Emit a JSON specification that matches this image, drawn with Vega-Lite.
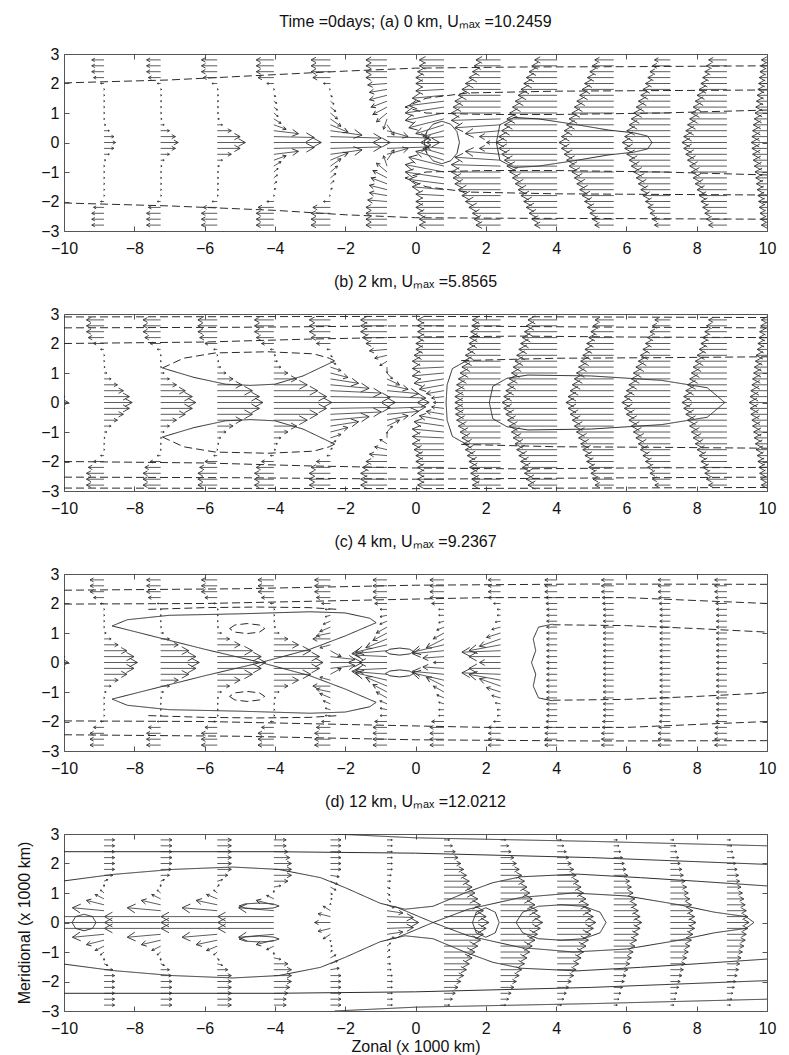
{
"$schema":"https://vega.github.io/schema/vega-lite/v6.json",
"background":"white",
"padding":{"left":16,"top":13,"right":10,"bottom":0},
"datasets":{
"contours":[
{"p":"a","c":"a1","s":"d","x":[-10,-7,-4,-2,0,3,6,10],"y":[2.02,2.12,2.3,2.42,2.52,2.56,2.57,2.6]},
{"p":"a","c":"a2","s":"d","x":[-10,-7,-4,-2,0,3,6,10],"y":[-2.05,-2.15,-2.3,-2.45,-2.55,-2.57,-2.58,-2.6]},
{"p":"a","c":"a3","s":"d","x":[10,7,4,1.5,0.3,-0.3,0.3,2,4,7,10],"y":[1.78,1.76,1.74,1.68,1.5,1.2,1.0,0.95,0.95,1.0,1.1]},
{"p":"a","c":"a4","s":"d","x":[10,7,4,1.5,0.3,-0.3,0.3,2,4,7,10],"y":[-1.78,-1.76,-1.74,-1.68,-1.5,-1.2,-1.0,-0.95,-0.95,-1.0,-1.1]},
{"p":"a","c":"a5","s":"s","x":[0.25,0.32,0.5,0.75,1.0,1.18,1.25,1.18,1.0,0.75,0.5,0.32,0.25],"y":[0,0.37,0.62,0.72,0.62,0.37,0,-0.37,-0.62,-0.72,-0.62,-0.37,0]},
{"p":"a","c":"a6","s":"s","x":[2.3,2.4,2.8,3.5,4.5,5.5,6.2,6.6,6.73,6.6,6.2,5.5,4.5,3.5,2.8,2.4,2.3],"y":[0,0.6,0.85,0.8,0.62,0.42,0.33,0.22,0,-0.22,-0.33,-0.42,-0.62,-0.8,-0.85,-0.6,0]},
{"p":"b","c":"b1","s":"d","x":[-10,-5,0,5,10],"y":[2.9,2.91,2.92,2.9,2.88]},
{"p":"b","c":"b2","s":"d","x":[-10,-5,0,5,10],"y":[-2.9,-2.91,-2.92,-2.9,-2.88]},
{"p":"b","c":"b3","s":"d","x":[-10,-5,0,5,10],"y":[2.53,2.55,2.6,2.56,2.53]},
{"p":"b","c":"b4","s":"d","x":[-10,-5,0,5,10],"y":[-2.53,-2.55,-2.6,-2.56,-2.53]},
{"p":"b","c":"b5","s":"d","x":[-10,-6,-3,0,3,6,10],"y":[2.0,2.05,2.15,2.22,2.25,2.22,2.2]},
{"p":"b","c":"b6","s":"d","x":[-10,-6,-3,0,3,6,10],"y":[-2.0,-2.05,-2.15,-2.22,-2.25,-2.22,-2.2]},
{"p":"b","c":"b7","s":"d","x":[1.3,4,7,10],"y":[1.42,1.5,1.52,1.55]},
{"p":"b","c":"b8","s":"d","x":[1.3,4,7,10],"y":[-1.42,-1.5,-1.52,-1.55]},
{"p":"b","c":"b9","s":"s","x":[1.5,1.05,0.9,0.87,0.9,1.05,1.5],"y":[1.45,1.15,0.6,0,-0.6,-1.15,-1.45]},
{"p":"b","c":"b10","s":"s","x":[2.1,2.2,2.6,3.2,5,7,8.3,8.8,8.3,7,5,3.2,2.6,2.2,2.1],"y":[0,0.55,0.82,0.93,0.9,0.75,0.5,0,-0.5,-0.75,-0.9,-0.93,-0.82,-0.55,0]},
{"p":"b","c":"b11","s":"d","x":[-7.2,-6.6,-5.7,-4.2,-2.9,-2.45,-2.3],"y":[1.17,1.5,1.68,1.72,1.65,1.5,1.41]},
{"p":"b","c":"b12","s":"d","x":[-7.2,-6.6,-5.7,-4.2,-2.9,-2.45,-2.3],"y":[-1.17,-1.5,-1.68,-1.72,-1.65,-1.5,-1.41]},
{"p":"b","c":"b13","s":"s","x":[-7.2,-6.3,-5.4,-4.7,-4.0,-3.2,-2.3],"y":[1.17,0.85,0.62,0.58,0.62,0.9,1.41]},
{"p":"b","c":"b14","s":"s","x":[-7.2,-6.3,-5.4,-4.7,-4.0,-3.2,-2.3],"y":[-1.17,-0.85,-0.62,-0.58,-0.62,-0.9,-1.41]},
{"p":"c","c":"c1","s":"d","x":[-10,-5,0,5,10],"y":[2.45,2.5,2.62,2.66,2.65]},
{"p":"c","c":"c2","s":"d","x":[-10,-5,0,5,10],"y":[-2.45,-2.5,-2.62,-2.66,-2.65]},
{"p":"c","c":"c3","s":"d","x":[-10,-6,-2,2,6,10],"y":[1.98,2.0,2.1,2.2,2.2,2.0]},
{"p":"c","c":"c4","s":"d","x":[-10,-6,-2,2,6,10],"y":[-1.98,-2.0,-2.1,-2.2,-2.2,-2.0]},
{"p":"c","c":"c5","s":"d","x":[-7.6,-6,-4.5,-3,-2.2],"y":[1.8,1.86,1.88,1.86,1.8]},
{"p":"c","c":"c6","s":"d","x":[-7.6,-6,-4.5,-3,-2.2],"y":[-1.8,-1.86,-1.88,-1.86,-1.8]},
{"p":"c","c":"c7","s":"s","x":[-8.63,-7.5,-6,-4.4,-3,-2,-1.12,-1.3,-2,-3,-5,-7,-8.2,-8.63,-7.5,-6,-4.4,-3,-2,-1.12,-1.3,-2,-3,-5,-7,-8.2,-8.63],"y":[1.24,0.9,0.45,0,-0.45,-0.9,-1.35,-1.5,-1.68,-1.72,-1.65,-1.6,-1.45,-1.24,-0.9,-0.45,0,0.45,0.9,1.35,1.5,1.68,1.72,1.65,1.6,1.45,1.24]},
{"p":"c","c":"c8","s":"d","x":[-5.29,-5.14,-4.79,-4.44,-4.29,-4.44,-4.79,-5.14,-5.29],"y":[1.15,1.27,1.32,1.27,1.15,1.03,0.98,1.03,1.15]},
{"p":"c","c":"c9","s":"d","x":[-5.29,-5.14,-4.79,-4.44,-4.29,-4.44,-4.79,-5.14,-5.29],"y":[-1.15,-1.27,-1.32,-1.27,-1.15,-1.03,-0.98,-1.03,-1.15]},
{"p":"c","c":"c10","s":"s","x":[3.9,3.5,3.35,3.42,3.3,3.42,3.35,3.5,3.9],"y":[1.3,1.2,0.8,0.4,0,-0.4,-0.8,-1.2,-1.3]},
{"p":"c","c":"c11","s":"d","x":[3.9,6,8,10],"y":[1.28,1.25,1.15,1.03]},
{"p":"c","c":"c12","s":"d","x":[3.9,6,8,10],"y":[-1.28,-1.25,-1.15,-1.03]},
{"p":"c","c":"c13","s":"s","x":[-0.85,-0.73,-0.45,-0.17,-0.05,-0.17,-0.45,-0.73,-0.85],"y":[0.37,0.45,0.49,0.45,0.37,0.29,0.25,0.29,0.37]},
{"p":"c","c":"c14","s":"s","x":[-0.85,-0.73,-0.45,-0.17,-0.05,-0.17,-0.45,-0.73,-0.85],"y":[-0.37,-0.45,-0.49,-0.45,-0.37,-0.29,-0.25,-0.29,-0.37]},
{"p":"d","c":"d1","s":"s","x":[-2.3,0,5,10],"y":[3.0,2.87,2.75,2.6]},
{"p":"d","c":"d2","s":"s","x":[-2.3,0,5,10],"y":[-3.0,-2.87,-2.75,-2.6]},
{"p":"d","c":"d3","s":"s","x":[-10,-4,0,5,10],"y":[2.4,2.4,2.35,2.2,1.97]},
{"p":"d","c":"d4","s":"s","x":[-10,-4,0,5,10],"y":[-2.4,-2.4,-2.35,-2.2,-1.97]},
{"p":"d","c":"d5","s":"s","x":[-10,-8.6,-6.9,-5.2,-3.9,-2.7,-2,-1,-0.3,0.5,1.4,2.2,3,4.6,6.4,8,10],"y":[1.41,1.63,1.8,1.88,1.8,1.52,1.18,0.65,0.45,0.55,1,1.35,1.55,1.64,1.52,1.4,1.24]},
{"p":"d","c":"d6","s":"s","x":[-10,-8.6,-6.9,-5.2,-3.9,-2.7,-2,-1,-0.3,0.5,1.4,2.2,3,4.6,6.4,8,10],"y":[-1.41,-1.63,-1.8,-1.88,-1.8,-1.52,-1.18,-0.65,-0.45,-0.55,-1,-1.35,-1.55,-1.64,-1.52,-1.4,-1.24]},
{"p":"d","c":"d7","s":"s","x":[-0.6,0.5,1.5,3,4.5,6,7.5,8.5,9.4,9.63,9.4,8.5,7.5,6,4.5,3,1.5,0.5,-0.6],"y":[-0.55,0,0.45,0.85,1,0.9,0.6,0.35,0.2,0,-0.2,-0.35,-0.6,-0.9,-1,-0.85,-0.45,0,0.55]},
{"p":"d","c":"d8","s":"s","x":[2.86,3.05,3.5,4.14,4.78,5.25,5.42,5.25,4.78,4.14,3.5,3.05,2.86],"y":[0,0.35,0.55,0.6,0.55,0.35,0,-0.35,-0.55,-0.6,-0.55,-0.35,0]},
{"p":"d","c":"d9","s":"s","x":[1.62,1.73,2,2.27,2.38,2.27,2,1.73,1.62],"y":[0,0.35,0.5,0.35,0,-0.35,-0.5,-0.35,0]},
{"p":"d","c":"d10","s":"s","x":[-5.02,-4.85,-4.45,-4.05,-3.88,-4.05,-4.45,-4.85,-5.02],"y":[0.56,0.63,0.66,0.63,0.56,0.49,0.46,0.49,0.56]},
{"p":"d","c":"d11","s":"s","x":[-5.02,-4.85,-4.45,-4.05,-3.88,-4.05,-4.45,-4.85,-5.02],"y":[-0.56,-0.63,-0.66,-0.63,-0.56,-0.49,-0.46,-0.49,-0.56]},
{"p":"d","c":"d12","s":"s","x":[-9.77,-9.67,-9.43,-9.19,-9.09,-9.19,-9.43,-9.67,-9.77],"y":[0,0.2,0.28,0.2,0,-0.2,-0.28,-0.2,0]}
],
"arrows":[
{"p":"a","x":-8.86,"y":[-2.8,-2.6,-2.4,-2.2,-2,-1.8,-1.6,-1.4,-1.2,-1,-0.8,-0.6,-0.4,-0.2,0,0.2,0.4,0.6,0.8,1,1.2,1.4,1.6,1.8,2,2.2,2.4,2.6,2.8],"u":[-0.35,-0.35,-0.35,-0.3,-0.1,0.02,0.02,0.02,0.02,0.02,0.02,0.05,0.15,0.28,0.33,0.28,0.15,0.05,0.02,0.02,0.02,0.02,0.02,0.02,-0.1,-0.3,-0.35,-0.35,-0.35],"v":[]},
{"p":"a","x":-7.25,"y":[-2.8,-2.6,-2.4,-2.2,-2,-1.8,-1.6,-1.4,-1.2,-1,-0.8,-0.6,-0.4,-0.2,0,0.2,0.4,0.6,0.8,1,1.2,1.4,1.6,1.8,2,2.2,2.4,2.6,2.8],"u":[-0.4,-0.4,-0.4,-0.35,-0.1,0.03,0.03,0.03,0.03,0.03,0.04,0.1,0.25,0.42,0.5,0.42,0.25,0.1,0.04,0.03,0.03,0.03,0.03,0.03,-0.1,-0.35,-0.4,-0.4,-0.4],"v":[]},
{"p":"a","x":-5.64,"y":[-2.8,-2.6,-2.4,-2.2,-2,-1.8,-1.6,-1.4,-1.2,-1,-0.8,-0.6,-0.4,-0.2,0,0.2,0.4,0.6,0.8,1,1.2,1.4,1.6,1.8,2,2.2,2.4,2.6,2.8],"u":[-0.45,-0.45,-0.45,-0.4,-0.15,0.03,0.04,0.04,0.04,0.04,0.06,0.15,0.4,0.65,0.8,0.65,0.4,0.15,0.06,0.04,0.04,0.04,0.04,0.03,-0.15,-0.4,-0.45,-0.45,-0.45],"v":[]},
{"p":"a","x":-4.03,"y":[-2.8,-2.6,-2.4,-2.2,-2,-1.8,-1.6,-1.4,-1.2,-1,-0.8,-0.6,-0.4,-0.2,0,0.2,0.4,0.6,0.8,1,1.2,1.4,1.6,1.8,2,2.2,2.4,2.6,2.8],"u":[-0.5,-0.5,-0.5,-0.45,-0.2,0.02,0.05,0.08,0.1,0.12,0.2,0.35,0.7,1.15,1.35,1.15,0.7,0.35,0.2,0.12,0.1,0.08,0.05,0.02,-0.2,-0.45,-0.5,-0.5,-0.5],"v":[0,0,0,0,0,0,0.04,0.07,0.1,0.12,0.15,0.15,0.1,0.03,0,-0.03,-0.1,-0.15,-0.15,-0.12,-0.1,-0.07,-0.04,0,0,0,0,0,0]},
{"p":"a","x":-2.42,"y":[-2.8,-2.6,-2.4,-2.2,-2,-1.8,-1.6,-1.4,-1.2,-1,-0.8,-0.6,-0.4,-0.2,0,0.2,0.4,0.6,0.8,1,1.2,1.4,1.6,1.8,2,2.2,2.4,2.6,2.8],"u":[-0.55,-0.55,-0.55,-0.5,-0.2,0,0.05,0.1,0.15,0.2,0.3,0.5,0.9,1.45,1.7,1.45,0.9,0.5,0.3,0.2,0.15,0.1,0.05,0,-0.2,-0.5,-0.55,-0.55,-0.55],"v":[0,0,0,0,0,0,0.05,0.1,0.15,0.2,0.25,0.25,0.15,0.05,0,-0.05,-0.15,-0.25,-0.25,-0.2,-0.15,-0.1,-0.05,0,0,0,0,0,0]},
{"p":"a","x":-0.81,"y":[-2.8,-2.6,-2.4,-2.2,-2,-1.8,-1.6,-1.4,-1.2,-1,-0.8,-0.6,-0.4,-0.2,0,0.2,0.4,0.6,0.8,1,1.2,1.4,1.6,1.8,2,2.2,2.4,2.6,2.8],"u":[-0.6,-0.6,-0.6,-0.6,-0.55,-0.5,-0.5,-0.45,-0.4,-0.3,-0.1,0.2,0.6,1.2,1.5,1.2,0.6,0.2,-0.1,-0.3,-0.4,-0.45,-0.5,-0.5,-0.55,-0.6,-0.6,-0.6,-0.6],"v":[0,0,0,0,0.05,0.1,0.15,0.2,0.25,0.3,0.35,0.35,0.2,0.05,0,-0.05,-0.2,-0.35,-0.35,-0.3,-0.25,-0.2,-0.15,-0.1,-0.05,0,0,0,0]},
{"p":"a","x":0.81,"y":[-2.8,-2.6,-2.4,-2.2,-2,-1.8,-1.6,-1.4,-1.2,-1,-0.8,-0.6,-0.4,-0.2,0,0.2,0.4,0.6,0.8,1,1.2,1.4,1.6,1.8,2,2.2,2.4,2.6,2.8],"u":[-0.7,-0.7,-0.75,-0.8,-0.8,-0.8,-0.9,-1.0,-1.1,-1.1,-1.0,-0.8,-0.6,-0.5,-0.5,-0.5,-0.6,-0.8,-1.0,-1.1,-1.1,-1.0,-0.9,-0.8,-0.8,-0.8,-0.75,-0.7,-0.7],"v":[0,0,0,0,0,0.05,0.1,0.15,0.2,0.25,0.3,0.3,0.2,0.05,0,-0.05,-0.2,-0.3,-0.3,-0.25,-0.2,-0.15,-0.1,-0.05,0,0,0,0,0]},
{"p":"a","x":2.42,"y":[-2.8,-2.6,-2.4,-2.2,-2,-1.8,-1.6,-1.4,-1.2,-1,-0.8,-0.6,-0.4,-0.2,0,0.2,0.4,0.6,0.8,1,1.2,1.4,1.6,1.8,2,2.2,2.4,2.6,2.8],"u":[-0.7,-0.75,-0.8,-0.9,-1.0,-1.1,-1.2,-1.3,-1.35,-1.4,-1.4,-1.3,-1.0,-0.6,-0.4,-0.6,-1.0,-1.3,-1.4,-1.4,-1.35,-1.3,-1.2,-1.1,-1.0,-0.9,-0.8,-0.75,-0.7],"v":[0,0,0,0,0,0,0,0,0,0,0.05,0.1,0.1,0,0,0,-0.1,-0.1,-0.05,0,0,0,0,0,0,0,0,0,0]},
{"p":"a","x":4.03,"y":[-2.8,-2.6,-2.4,-2.2,-2,-1.8,-1.6,-1.4,-1.2,-1,-0.8,-0.6,-0.4,-0.2,0,0.2,0.4,0.6,0.8,1,1.2,1.4,1.6,1.8,2,2.2,2.4,2.6,2.8],"u":[-0.64,-0.72,-0.8,-0.88,-0.95,-1.03,-1.11,-1.19,-1.27,-1.35,-1.43,-1.5,-1.58,-1.66,-1.74,-1.66,-1.58,-1.5,-1.43,-1.35,-1.27,-1.19,-1.11,-1.03,-0.95,-0.88,-0.8,-0.72,-0.64],"v":[]},
{"p":"a","x":5.64,"y":[-2.8,-2.6,-2.4,-2.2,-2,-1.8,-1.6,-1.4,-1.2,-1,-0.8,-0.6,-0.4,-0.2,0,0.2,0.4,0.6,0.8,1,1.2,1.4,1.6,1.8,2,2.2,2.4,2.6,2.8],"u":[-0.54,-0.61,-0.68,-0.75,-0.83,-0.9,-0.97,-1.05,-1.12,-1.19,-1.27,-1.34,-1.41,-1.49,-1.56,-1.49,-1.41,-1.34,-1.27,-1.19,-1.12,-1.05,-0.97,-0.9,-0.83,-0.75,-0.68,-0.61,-0.54],"v":[]},
{"p":"a","x":7.25,"y":[-2.8,-2.6,-2.4,-2.2,-2,-1.8,-1.6,-1.4,-1.2,-1,-0.8,-0.6,-0.4,-0.2,0,0.2,0.4,0.6,0.8,1,1.2,1.4,1.6,1.8,2,2.2,2.4,2.6,2.8],"u":[-0.45,-0.51,-0.58,-0.64,-0.71,-0.78,-0.84,-0.91,-0.97,-1.04,-1.11,-1.17,-1.24,-1.3,-1.37,-1.3,-1.24,-1.17,-1.11,-1.04,-0.97,-0.91,-0.84,-0.78,-0.71,-0.64,-0.58,-0.51,-0.45],"v":[]},
{"p":"a","x":8.86,"y":[-2.8,-2.6,-2.4,-2.2,-2,-1.8,-1.6,-1.4,-1.2,-1,-0.8,-0.6,-0.4,-0.2,0,0.2,0.4,0.6,0.8,1,1.2,1.4,1.6,1.8,2,2.2,2.4,2.6,2.8],"u":[-0.52,-0.58,-0.63,-0.69,-0.74,-0.79,-0.85,-0.9,-0.96,-1.01,-1.06,-1.12,-1.17,-1.23,-1.28,-1.23,-1.17,-1.12,-1.06,-1.01,-0.96,-0.9,-0.85,-0.79,-0.74,-0.69,-0.63,-0.58,-0.52],"v":[]},
{"p":"a","x":10.47,"y":[-2.8,-2.6,-2.4,-2.2,-2,-1.8,-1.6,-1.4,-1.2,-1,-0.8,-0.6,-0.4,-0.2,0,0.2,0.4,0.6,0.8,1,1.2,1.4,1.6,1.8,2,2.2,2.4,2.6,2.8],"u":[-0.63,-0.65,-0.67,-0.69,-0.71,-0.73,-0.75,-0.77,-0.79,-0.81,-0.83,-0.86,-0.88,-0.9,-0.92,-0.9,-0.88,-0.86,-0.83,-0.81,-0.79,-0.77,-0.75,-0.73,-0.71,-0.69,-0.67,-0.65,-0.63],"v":[]},
{"p":"b","x":-10.47,"y":[-2.8,-2.6,-2.4,-2.2,-2,-1.8,-1.6,-1.4,-1.2,-1,-0.8,-0.6,-0.4,-0.2,0,0.2,0.4,0.6,0.8,1,1.2,1.4,1.6,1.8,2,2.2,2.4,2.6,2.8],"u":[0,0,0,0,0,0,0,0,0,0,0,0.1,0.3,0.5,0.6,0.5,0.3,0.1,0,0,0,0,0,0,0,0,0,0,0],"v":[]},
{"p":"b","x":-8.86,"y":[-2.8,-2.6,-2.4,-2.2,-2,-1.8,-1.6,-1.4,-1.2,-1,-0.8,-0.6,-0.4,-0.2,0,0.2,0.4,0.6,0.8,1,1.2,1.4,1.6,1.8,2,2.2,2.4,2.6,2.8],"u":[-0.5,-0.5,-0.5,-0.45,-0.3,-0.1,0.02,0.02,0.03,0.08,0.2,0.38,0.55,0.72,0.8,0.72,0.55,0.38,0.2,0.08,0.03,0.02,0.02,-0.1,-0.3,-0.45,-0.5,-0.5,-0.5],"v":[]},
{"p":"b","x":-7.25,"y":[-2.8,-2.6,-2.4,-2.2,-2,-1.8,-1.6,-1.4,-1.2,-1,-0.8,-0.6,-0.4,-0.2,0,0.2,0.4,0.6,0.8,1,1.2,1.4,1.6,1.8,2,2.2,2.4,2.6,2.8],"u":[-0.5,-0.5,-0.5,-0.45,-0.3,-0.1,0.02,0.02,0.03,0.1,0.25,0.45,0.7,0.9,1.0,0.9,0.7,0.45,0.25,0.1,0.03,0.02,0.02,-0.1,-0.3,-0.45,-0.5,-0.5,-0.5],"v":[]},
{"p":"b","x":-5.64,"y":[-2.8,-2.6,-2.4,-2.2,-2,-1.8,-1.6,-1.4,-1.2,-1,-0.8,-0.6,-0.4,-0.2,0,0.2,0.4,0.6,0.8,1,1.2,1.4,1.6,1.8,2,2.2,2.4,2.6,2.8],"u":[-0.55,-0.55,-0.55,-0.5,-0.35,-0.1,0.02,0.05,0.1,0.25,0.45,0.7,1.0,1.2,1.3,1.2,1.0,0.7,0.45,0.25,0.1,0.05,0.02,-0.1,-0.35,-0.5,-0.55,-0.55,-0.55],"v":[]},
{"p":"b","x":-4.03,"y":[-2.8,-2.6,-2.4,-2.2,-2,-1.8,-1.6,-1.4,-1.2,-1,-0.8,-0.6,-0.4,-0.2,0,0.2,0.4,0.6,0.8,1,1.2,1.4,1.6,1.8,2,2.2,2.4,2.6,2.8],"u":[-0.55,-0.55,-0.55,-0.5,-0.35,-0.1,0.05,0.1,0.2,0.4,0.65,0.95,1.25,1.5,1.65,1.5,1.25,0.95,0.65,0.4,0.2,0.1,0.05,-0.1,-0.35,-0.5,-0.55,-0.55,-0.55],"v":[]},
{"p":"b","x":-2.42,"y":[-2.8,-2.6,-2.4,-2.2,-2,-1.8,-1.6,-1.4,-1.2,-1,-0.8,-0.6,-0.4,-0.2,0,0.2,0.4,0.6,0.8,1,1.2,1.4,1.6,1.8,2,2.2,2.4,2.6,2.8],"u":[-0.6,-0.6,-0.6,-0.55,-0.4,-0.1,0.05,0.15,0.3,0.5,0.8,1.1,1.45,1.7,1.85,1.7,1.45,1.1,0.8,0.5,0.3,0.15,0.05,-0.1,-0.4,-0.55,-0.6,-0.6,-0.6],"v":[0,0,0,0,0,0,0.05,0.1,0.12,0.15,0.15,0.12,0.08,0.03,0,-0.03,-0.08,-0.12,-0.15,-0.15,-0.12,-0.1,-0.05,0,0,0,0,0,0]},
{"p":"b","x":-0.81,"y":[-2.8,-2.6,-2.4,-2.2,-2,-1.8,-1.6,-1.4,-1.2,-1,-0.8,-0.6,-0.4,-0.2,0,0.2,0.4,0.6,0.8,1,1.2,1.4,1.6,1.8,2,2.2,2.4,2.6,2.8],"u":[-0.75,-0.75,-0.75,-0.7,-0.6,-0.5,-0.35,-0.2,0,0.15,0.35,0.6,0.9,1.1,1.2,1.1,0.9,0.6,0.35,0.15,0,-0.2,-0.35,-0.5,-0.6,-0.7,-0.75,-0.75,-0.75],"v":[0,0,0,0,0,0.05,0.1,0.15,0.2,0.2,0.2,0.15,0.1,0.05,0,-0.05,-0.1,-0.15,-0.2,-0.2,-0.2,-0.15,-0.1,-0.05,0,0,0,0,0]},
{"p":"b","x":0.81,"y":[-2.8,-2.6,-2.4,-2.2,-2,-1.8,-1.6,-1.4,-1.2,-1,-0.8,-0.6,-0.4,-0.2,0,0.2,0.4,0.6,0.8,1,1.2,1.4,1.6,1.8,2,2.2,2.4,2.6,2.8],"u":[-0.75,-0.75,-0.75,-0.75,-0.8,-0.8,-0.85,-0.9,-0.9,-0.9,-0.85,-0.7,-0.5,-0.35,-0.3,-0.35,-0.5,-0.7,-0.85,-0.9,-0.9,-0.9,-0.85,-0.8,-0.8,-0.75,-0.75,-0.75,-0.75],"v":[0,0,0,0,0,0,0,0,0.05,0.1,0.15,0.15,0.1,0.05,0,-0.05,-0.1,-0.15,-0.15,-0.1,-0.05,0,0,0,0,0,0,0,0]},
{"p":"b","x":2.42,"y":[-2.8,-2.6,-2.4,-2.2,-2,-1.8,-1.6,-1.4,-1.2,-1,-0.8,-0.6,-0.4,-0.2,0,0.2,0.4,0.6,0.8,1,1.2,1.4,1.6,1.8,2,2.2,2.4,2.6,2.8],"u":[-0.8,-0.82,-0.85,-0.88,-0.9,-0.95,-1.0,-1.05,-1.1,-1.15,-1.2,-1.25,-1.28,-1.3,-1.3,-1.3,-1.28,-1.25,-1.2,-1.15,-1.1,-1.05,-1.0,-0.95,-0.9,-0.88,-0.85,-0.82,-0.8],"v":[]},
{"p":"b","x":4.03,"y":[-2.8,-2.6,-2.4,-2.2,-2,-1.8,-1.6,-1.4,-1.2,-1,-0.8,-0.6,-0.4,-0.2,0,0.2,0.4,0.6,0.8,1,1.2,1.4,1.6,1.8,2,2.2,2.4,2.6,2.8],"u":[-0.83,-0.88,-0.93,-0.99,-1.04,-1.09,-1.15,-1.2,-1.25,-1.3,-1.36,-1.41,-1.46,-1.52,-1.57,-1.52,-1.46,-1.41,-1.36,-1.3,-1.25,-1.2,-1.15,-1.09,-1.04,-0.99,-0.93,-0.88,-0.83],"v":[]},
{"p":"b","x":5.64,"y":[-2.8,-2.6,-2.4,-2.2,-2,-1.8,-1.6,-1.4,-1.2,-1,-0.8,-0.6,-0.4,-0.2,0,0.2,0.4,0.6,0.8,1,1.2,1.4,1.6,1.8,2,2.2,2.4,2.6,2.8],"u":[-0.53,-0.59,-0.65,-0.71,-0.77,-0.82,-0.88,-0.94,-1.0,-1.06,-1.12,-1.18,-1.24,-1.3,-1.36,-1.3,-1.24,-1.18,-1.12,-1.06,-1.0,-0.94,-0.88,-0.82,-0.77,-0.71,-0.65,-0.59,-0.53],"v":[]},
{"p":"b","x":7.25,"y":[-2.8,-2.6,-2.4,-2.2,-2,-1.8,-1.6,-1.4,-1.2,-1,-0.8,-0.6,-0.4,-0.2,0,0.2,0.4,0.6,0.8,1,1.2,1.4,1.6,1.8,2,2.2,2.4,2.6,2.8],"u":[-0.44,-0.51,-0.58,-0.65,-0.71,-0.78,-0.85,-0.91,-0.98,-1.05,-1.11,-1.18,-1.25,-1.31,-1.38,-1.31,-1.25,-1.18,-1.11,-1.05,-0.98,-0.91,-0.85,-0.78,-0.71,-0.65,-0.58,-0.51,-0.44],"v":[]},
{"p":"b","x":8.86,"y":[-2.8,-2.6,-2.4,-2.2,-2,-1.8,-1.6,-1.4,-1.2,-1,-0.8,-0.6,-0.4,-0.2,0,0.2,0.4,0.6,0.8,1,1.2,1.4,1.6,1.8,2,2.2,2.4,2.6,2.8],"u":[-0.52,-0.58,-0.63,-0.69,-0.74,-0.79,-0.85,-0.9,-0.96,-1.01,-1.06,-1.12,-1.17,-1.23,-1.28,-1.23,-1.17,-1.12,-1.06,-1.01,-0.96,-0.9,-0.85,-0.79,-0.74,-0.69,-0.63,-0.58,-0.52],"v":[]},
{"p":"b","x":10.47,"y":[-2.8,-2.6,-2.4,-2.2,-2,-1.8,-1.6,-1.4,-1.2,-1,-0.8,-0.6,-0.4,-0.2,0,0.2,0.4,0.6,0.8,1,1.2,1.4,1.6,1.8,2,2.2,2.4,2.6,2.8],"u":[-0.63,-0.65,-0.68,-0.7,-0.73,-0.75,-0.78,-0.8,-0.83,-0.85,-0.88,-0.9,-0.93,-0.95,-0.98,-0.95,-0.93,-0.9,-0.88,-0.85,-0.83,-0.8,-0.78,-0.75,-0.73,-0.7,-0.68,-0.65,-0.63],"v":[]},
{"p":"c","x":-10.47,"y":[-2.8,-2.6,-2.4,-2.2,-2,-1.8,-1.6,-1.4,-1.2,-1,-0.8,-0.6,-0.4,-0.2,0,0.2,0.4,0.6,0.8,1,1.2,1.4,1.6,1.8,2,2.2,2.4,2.6,2.8],"u":[0,0,0,0,0,0,0,0,0,0,0,0.05,0.3,0.5,0.6,0.5,0.3,0.05,0,0,0,0,0,0,0,0,0,0,0],"v":[]},
{"p":"c","x":-8.86,"y":[-2.8,-2.6,-2.4,-2.2,-2,-1.8,-1.6,-1.4,-1.2,-1,-0.8,-0.6,-0.4,-0.2,0,0.2,0.4,0.6,0.8,1,1.2,1.4,1.6,1.8,2,2.2,2.4,2.6,2.8],"u":[-0.4,-0.4,-0.4,-0.3,-0.1,0.02,0.02,0.02,0.02,0.06,0.2,0.4,0.65,0.85,0.95,0.85,0.65,0.4,0.2,0.06,0.02,0.02,0.02,0.02,-0.1,-0.3,-0.4,-0.4,-0.4],"v":[]},
{"p":"c","x":-7.25,"y":[-2.8,-2.6,-2.4,-2.2,-2,-1.8,-1.6,-1.4,-1.2,-1,-0.8,-0.6,-0.4,-0.2,0,0.2,0.4,0.6,0.8,1,1.2,1.4,1.6,1.8,2,2.2,2.4,2.6,2.8],"u":[-0.4,-0.4,-0.4,-0.35,-0.1,0.02,0.02,0.02,0.03,0.08,0.25,0.5,0.8,1.0,1.1,1.0,0.8,0.5,0.25,0.08,0.03,0.02,0.02,0.02,-0.1,-0.35,-0.4,-0.4,-0.4],"v":[]},
{"p":"c","x":-5.64,"y":[-2.8,-2.6,-2.4,-2.2,-2,-1.8,-1.6,-1.4,-1.2,-1,-0.8,-0.6,-0.4,-0.2,0,0.2,0.4,0.6,0.8,1,1.2,1.4,1.6,1.8,2,2.2,2.4,2.6,2.8],"u":[-0.45,-0.45,-0.45,-0.35,-0.1,0.03,0.03,0.03,0.04,0.12,0.35,0.65,1.0,1.25,1.38,1.25,1.0,0.65,0.35,0.12,0.04,0.03,0.03,0.03,-0.1,-0.35,-0.45,-0.45,-0.45],"v":[]},
{"p":"c","x":-4.03,"y":[-2.8,-2.6,-2.4,-2.2,-2,-1.8,-1.6,-1.4,-1.2,-1,-0.8,-0.6,-0.4,-0.2,0,0.2,0.4,0.6,0.8,1,1.2,1.4,1.6,1.8,2,2.2,2.4,2.6,2.8],"u":[-0.45,-0.45,-0.45,-0.35,-0.1,0.03,0.03,0.03,0.05,0.15,0.4,0.7,1.05,1.3,1.4,1.3,1.05,0.7,0.4,0.15,0.05,0.03,0.03,0.03,-0.1,-0.35,-0.45,-0.45,-0.45],"v":[]},
{"p":"c","x":-2.42,"y":[-2.8,-2.6,-2.4,-2.2,-2,-1.8,-1.6,-1.4,-1.2,-1,-0.8,-0.6,-0.4,-0.2,0,0.2,0.4,0.6,0.8,1,1.2,1.4,1.6,1.8,2,2.2,2.4,2.6,2.8],"u":[-0.45,-0.45,-0.45,-0.4,-0.25,-0.15,-0.15,-0.2,-0.3,-0.4,-0.5,-0.3,0.3,0.7,0.9,0.7,0.3,-0.3,-0.5,-0.4,-0.3,-0.2,-0.15,-0.15,-0.25,-0.4,-0.45,-0.45,-0.45],"v":[0,0,0,0,0,0,0.05,0.1,0.15,0.1,0,0.1,0.2,0.1,0,-0.1,-0.2,-0.1,0,-0.1,-0.15,-0.1,-0.05,0,0,0,0,0,0]},
{"p":"c","x":-0.81,"y":[-2.8,-2.6,-2.4,-2.2,-2,-1.8,-1.6,-1.4,-1.2,-1,-0.8,-0.6,-0.4,-0.2,0,0.2,0.4,0.6,0.8,1,1.2,1.4,1.6,1.8,2,2.2,2.4,2.6,2.8],"u":[-0.4,-0.4,-0.4,-0.4,-0.35,-0.2,-0.2,-0.2,-0.3,-0.4,-0.6,-0.9,-1.0,-0.9,-0.8,-0.9,-1.0,-0.9,-0.6,-0.4,-0.3,-0.2,-0.2,-0.2,-0.35,-0.4,-0.4,-0.4,-0.4],"v":[0,0,0,0,0,0,0.05,0.1,0.2,0.25,0.3,0.25,0.1,-0.05,0,0.05,-0.1,-0.25,-0.3,-0.25,-0.2,-0.1,-0.05,0,0,0,0,0,0]},
{"p":"c","x":0.81,"y":[-2.8,-2.6,-2.4,-2.2,-2,-1.8,-1.6,-1.4,-1.2,-1,-0.8,-0.6,-0.4,-0.2,0,0.2,0.4,0.6,0.8,1,1.2,1.4,1.6,1.8,2,2.2,2.4,2.6,2.8],"u":[-0.4,-0.4,-0.4,-0.4,-0.35,-0.15,-0.15,-0.15,-0.2,-0.3,-0.5,-0.9,-0.9,-0.6,-0.3,-0.6,-0.9,-0.9,-0.5,-0.3,-0.2,-0.15,-0.15,-0.15,-0.35,-0.4,-0.4,-0.4,-0.4],"v":[0,0,0,0,0,0,0,0.05,0.1,0.2,0.3,0.25,0.1,0.05,0,-0.05,-0.1,-0.25,-0.3,-0.2,-0.1,-0.05,0,0,0,0,0,0,0]},
{"p":"c","x":2.42,"y":[-2.8,-2.6,-2.4,-2.2,-2,-1.8,-1.6,-1.4,-1.2,-1,-0.8,-0.6,-0.4,-0.2,0,0.2,0.4,0.6,0.8,1,1.2,1.4,1.6,1.8,2,2.2,2.4,2.6,2.8],"u":[-0.35,-0.35,-0.35,-0.35,-0.2,-0.1,-0.1,-0.15,-0.25,-0.4,-0.6,-0.9,-1.1,-0.9,-0.6,-0.9,-1.1,-0.9,-0.6,-0.4,-0.25,-0.15,-0.1,-0.1,-0.2,-0.35,-0.35,-0.35,-0.35],"v":[0,0,0,0,0,0,0,0.03,0.08,0.15,0.25,0.2,0.05,0,0,0,-0.05,-0.2,-0.25,-0.15,-0.08,-0.03,0,0,0,0,0,0,0]},
{"p":"c","x":4.03,"y":[-2.8,-2.6,-2.4,-2.2,-2,-1.8,-1.6,-1.4,-1.2,-1,-0.8,-0.6,-0.4,-0.2,0,0.2,0.4,0.6,0.8,1,1.2,1.4,1.6,1.8,2,2.2,2.4,2.6,2.8],"u":[-0.35,-0.35,-0.35,-0.33,-0.32,-0.3,-0.3,-0.3,-0.3,-0.3,-0.3,-0.3,-0.3,-0.3,-0.3,-0.3,-0.3,-0.3,-0.3,-0.3,-0.3,-0.3,-0.3,-0.3,-0.32,-0.33,-0.35,-0.35,-0.35],"v":[]},
{"p":"c","x":5.64,"y":[-2.8,-2.6,-2.4,-2.2,-2,-1.8,-1.6,-1.4,-1.2,-1,-0.8,-0.6,-0.4,-0.2,0,0.2,0.4,0.6,0.8,1,1.2,1.4,1.6,1.8,2,2.2,2.4,2.6,2.8],"u":[-0.35,-0.35,-0.35,-0.33,-0.32,-0.3,-0.3,-0.3,-0.3,-0.3,-0.3,-0.3,-0.3,-0.3,-0.3,-0.3,-0.3,-0.3,-0.3,-0.3,-0.3,-0.3,-0.3,-0.3,-0.32,-0.33,-0.35,-0.35,-0.35],"v":[]},
{"p":"c","x":7.25,"y":[-2.8,-2.6,-2.4,-2.2,-2,-1.8,-1.6,-1.4,-1.2,-1,-0.8,-0.6,-0.4,-0.2,0,0.2,0.4,0.6,0.8,1,1.2,1.4,1.6,1.8,2,2.2,2.4,2.6,2.8],"u":[-0.35,-0.35,-0.35,-0.33,-0.32,-0.3,-0.3,-0.3,-0.3,-0.3,-0.3,-0.3,-0.3,-0.3,-0.3,-0.3,-0.3,-0.3,-0.3,-0.3,-0.3,-0.3,-0.3,-0.3,-0.32,-0.33,-0.35,-0.35,-0.35],"v":[]},
{"p":"c","x":8.86,"y":[-2.8,-2.6,-2.4,-2.2,-2,-1.8,-1.6,-1.4,-1.2,-1,-0.8,-0.6,-0.4,-0.2,0,0.2,0.4,0.6,0.8,1,1.2,1.4,1.6,1.8,2,2.2,2.4,2.6,2.8],"u":[-0.35,-0.35,-0.35,-0.33,-0.32,-0.3,-0.3,-0.3,-0.3,-0.3,-0.3,-0.3,-0.3,-0.3,-0.3,-0.3,-0.3,-0.3,-0.3,-0.3,-0.3,-0.3,-0.3,-0.3,-0.32,-0.33,-0.35,-0.35,-0.35],"v":[]},
{"p":"d","x":-8.86,"y":[-2.8,-2.6,-2.4,-2.2,-2,-1.8,-1.6,-1.4,-1.2,-1,-0.8,-0.6,-0.4,-0.2,0,0.2,0.4,0.6,0.8,1,1.2,1.4,1.6,1.8,2,2.2,2.4,2.6,2.8],"u":[0.3,0.3,0.3,0.3,0.3,0.3,0.25,0.1,0,-0.1,-0.25,-0.5,-0.9,-1.6,-1.6,-1.6,-0.9,-0.5,-0.25,-0.1,0,0.1,0.25,0.3,0.3,0.3,0.3,0.3,0.3],"v":[0,0,0,0,0,0,0,-0.05,-0.08,-0.1,-0.15,-0.15,-0.1,0,0,0,0.1,0.15,0.15,0.1,0.08,0.05,0,0,0,0,0,0,0]},
{"p":"d","x":-7.25,"y":[-2.8,-2.6,-2.4,-2.2,-2,-1.8,-1.6,-1.4,-1.2,-1,-0.8,-0.6,-0.4,-0.2,0,0.2,0.4,0.6,0.8,1,1.2,1.4,1.6,1.8,2,2.2,2.4,2.6,2.8],"u":[0.32,0.32,0.32,0.32,0.32,0.3,0.25,0.1,0,-0.1,-0.25,-0.55,-0.95,-1.6,-1.6,-1.6,-0.95,-0.55,-0.25,-0.1,0,0.1,0.25,0.3,0.32,0.32,0.32,0.32,0.32],"v":[0,0,0,0,0,0,0,-0.05,-0.08,-0.1,-0.15,-0.15,-0.1,0,0,0,0.1,0.15,0.15,0.1,0.08,0.05,0,0,0,0,0,0,0]},
{"p":"d","x":-5.64,"y":[-2.8,-2.6,-2.4,-2.2,-2,-1.8,-1.6,-1.4,-1.2,-1,-0.8,-0.6,-0.4,-0.2,0,0.2,0.4,0.6,0.8,1,1.2,1.4,1.6,1.8,2,2.2,2.4,2.6,2.8],"u":[0.4,0.4,0.4,0.4,0.4,0.4,0.3,0.15,0.05,-0.1,-0.3,-0.6,-1.0,-1.6,-1.6,-1.6,-1.0,-0.6,-0.3,-0.1,0.05,0.15,0.3,0.4,0.4,0.4,0.4,0.4,0.4],"v":[0,0,0,0,0,0,0,-0.05,-0.08,-0.1,-0.15,-0.15,-0.1,0,0,0,0.1,0.15,0.15,0.1,0.08,0.05,0,0,0,0,0,0,0]},
{"p":"d","x":-4.03,"y":[-2.8,-2.6,-2.4,-2.2,-2,-1.8,-1.6,-1.4,-1.2,-1,-0.8,-0.6,-0.4,-0.2,0,0.2,0.4,0.6,0.8,1,1.2,1.4,1.6,1.8,2,2.2,2.4,2.6,2.8],"u":[0.35,0.35,0.4,0.45,0.5,0.5,0.5,0.4,0.2,0,-0.2,-0.5,-1.0,-1.6,-1.6,-1.6,-1.0,-0.5,-0.2,0,0.2,0.4,0.5,0.5,0.5,0.45,0.4,0.35,0.35],"v":[0,0,0,0,0,0,0,0,-0.05,-0.08,-0.12,-0.15,-0.1,0,0,0,0.1,0.15,0.12,0.08,0.05,0,0,0,0,0,0,0,0]},
{"p":"d","x":-2.42,"y":[-2.8,-2.6,-2.4,-2.2,-2,-1.8,-1.6,-1.4,-1.2,-1,-0.8,-0.6,-0.4,-0.2,0,0.2,0.4,0.6,0.8,1,1.2,1.4,1.6,1.8,2,2.2,2.4,2.6,2.8],"u":[0.3,0.3,0.3,0.3,0.3,0.3,0.25,0.2,0.15,0.05,0.05,0,-0.2,-0.35,-0.45,-0.35,-0.2,0,0.05,0.05,0.15,0.2,0.25,0.3,0.3,0.3,0.3,0.3,0.3],"v":[0,0,0,0,0,0,0.05,0.1,0.1,0.05,0,-0.05,-0.15,-0.1,0,0.1,0.15,0.05,0,-0.05,-0.1,-0.1,-0.05,0,0,0,0,0,0]},
{"p":"d","x":-0.81,"y":[-2.8,-2.6,-2.4,-2.2,-2,-1.8,-1.6,-1.4,-1.2,-1,-0.8,-0.6,-0.4,-0.2,0,0.2,0.4,0.6,0.8,1,1.2,1.4,1.6,1.8,2,2.2,2.4,2.6,2.8],"u":[0.15,0.15,0.15,0.15,0.15,0.15,0.12,0.1,0.08,0.08,0.1,0.2,0.45,0.75,0.9,0.75,0.45,0.2,0.1,0.08,0.08,0.1,0.12,0.15,0.15,0.15,0.15,0.15,0.15],"v":[0,0,0,0,0,0,0,0,0.05,0.08,0.1,0.1,0.08,0.03,0,-0.03,-0.08,-0.1,-0.1,-0.08,-0.05,0,0,0,0,0,0,0,0]},
{"p":"d","x":0.81,"y":[-2.8,-2.6,-2.4,-2.2,-2,-1.8,-1.6,-1.4,-1.2,-1,-0.8,-0.6,-0.4,-0.2,0,0.2,0.4,0.6,0.8,1,1.2,1.4,1.6,1.8,2,2.2,2.4,2.6,2.8],"u":[0.16,0.24,0.32,0.4,0.48,0.56,0.64,0.72,0.8,0.88,0.96,1.04,1.12,1.2,1.28,1.2,1.12,1.04,0.96,0.88,0.8,0.72,0.64,0.56,0.48,0.4,0.32,0.24,0.16],"v":[]},
{"p":"d","x":2.42,"y":[-2.8,-2.6,-2.4,-2.2,-2,-1.8,-1.6,-1.4,-1.2,-1,-0.8,-0.6,-0.4,-0.2,0,0.2,0.4,0.6,0.8,1,1.2,1.4,1.6,1.8,2,2.2,2.4,2.6,2.8],"u":[0.15,0.23,0.3,0.38,0.45,0.53,0.6,0.68,0.75,0.83,0.9,0.98,1.05,1.13,1.2,1.13,1.05,0.98,0.9,0.83,0.75,0.68,0.6,0.53,0.45,0.38,0.3,0.23,0.15],"v":[]},
{"p":"d","x":4.03,"y":[-2.8,-2.6,-2.4,-2.2,-2,-1.8,-1.6,-1.4,-1.2,-1,-0.8,-0.6,-0.4,-0.2,0,0.2,0.4,0.6,0.8,1,1.2,1.4,1.6,1.8,2,2.2,2.4,2.6,2.8],"u":[0.12,0.19,0.26,0.33,0.4,0.47,0.54,0.61,0.68,0.75,0.82,0.89,0.96,1.03,1.1,1.03,0.96,0.89,0.82,0.75,0.68,0.61,0.54,0.47,0.4,0.33,0.26,0.19,0.12],"v":[]},
{"p":"d","x":5.64,"y":[-2.8,-2.6,-2.4,-2.2,-2,-1.8,-1.6,-1.4,-1.2,-1,-0.8,-0.6,-0.4,-0.2,0,0.2,0.4,0.6,0.8,1,1.2,1.4,1.6,1.8,2,2.2,2.4,2.6,2.8],"u":[0.1,0.15,0.2,0.25,0.3,0.35,0.4,0.45,0.5,0.55,0.6,0.65,0.7,0.75,0.8,0.75,0.7,0.65,0.6,0.55,0.5,0.45,0.4,0.35,0.3,0.25,0.2,0.15,0.1],"v":[]},
{"p":"d","x":7.25,"y":[-2.8,-2.6,-2.4,-2.2,-2,-1.8,-1.6,-1.4,-1.2,-1,-0.8,-0.6,-0.4,-0.2,0,0.2,0.4,0.6,0.8,1,1.2,1.4,1.6,1.8,2,2.2,2.4,2.6,2.8],"u":[0.1,0.15,0.19,0.24,0.28,0.33,0.37,0.42,0.46,0.51,0.55,0.6,0.64,0.69,0.73,0.69,0.64,0.6,0.55,0.51,0.46,0.42,0.37,0.33,0.28,0.24,0.19,0.15,0.1],"v":[]},
{"p":"d","x":8.86,"y":[-2.8,-2.6,-2.4,-2.2,-2,-1.8,-1.6,-1.4,-1.2,-1,-0.8,-0.6,-0.4,-0.2,0,0.2,0.4,0.6,0.8,1,1.2,1.4,1.6,1.8,2,2.2,2.4,2.6,2.8],"u":[0.1,0.14,0.17,0.21,0.25,0.29,0.33,0.36,0.4,0.44,0.48,0.52,0.55,0.59,0.63,0.59,0.55,0.52,0.48,0.44,0.4,0.36,0.33,0.29,0.25,0.21,0.17,0.14,0.1],"v":[]}
]
},
"vconcat":[
{"width":703,"height":177,
 "title":{"text":"Time =0days; (a) 0 km, Uₘₐₓ =10.2459"},
 "layer":[
  {"data":{"name":"contours"},"transform":[{"filter":"datum.p == 'a'"},{"flatten":["x","y"]}],
   "mark":{"type":"line","clip":true,"strokeWidth":1,"color":"#2a2a2a"},
   "encoding":{
    "x":{"field":"x","type":"quantitative","scale":{"domain":[-10,10],"nice":false,"zero":false},"axis":{"orient":"bottom","values":[-10,-8,-6,-4,-2,0,2,4,6,8,10],"title":null}},
    "y":{"field":"y","type":"quantitative","scale":{"domain":[-3,3],"nice":false,"zero":false},"axis":{"orient":"left","values":[-3,-2,-1,0,1,2,3],"title":null}},
    "detail":{"field":"c","type":"nominal"},
    "strokeDash":{"field":"s","type":"nominal","scale":{"domain":["d","s"],"range":[[8,4],[1,0]]},"legend":null},
    "order":{"value":null}}},
  {"data":{"name":"arrows"},
   "transform":[{"filter":"datum.p == 'a'"},{"flatten":["y","u","v"]},
    {"calculate":"datum.x + datum.u","as":"x2"},
    {"calculate":"datum.y + (datum.v || 0)","as":"y2"},
    {"calculate":"sqrt(pow(datum.u*35.15,2) + pow((datum.v || 0)*29.5,2))","as":"L"},
    {"calculate":"-atan2((datum.v || 0)*29.5, datum.u*35.15)*180/PI","as":"ang"},
    {"calculate":"4*pow(clamp(0.25*datum.L, 1.3, 8), 2)","as":"hs"}],
   "layer":[
    {"mark":{"type":"rule","clip":true,"strokeWidth":0.8,"color":"#333"},
     "encoding":{
      "x":{"field":"x","type":"quantitative","scale":{"domain":[-10,10],"nice":false,"zero":false},"axis":{"orient":"top","values":[-10,-8,-6,-4,-2,0,2,4,6,8,10],"labels":false,"title":null}},
      "x2":{"field":"x2"},
      "y":{"field":"y","type":"quantitative","scale":{"domain":[-3,3],"nice":false,"zero":false},"axis":{"orient":"right","values":[-3,-2,-1,0,1,2,3],"labels":false,"title":null}},
      "y2":{"field":"y2"}}},
    {"mark":{"type":"point","shape":"M-1,-0.55L0,0L-1,0.55","filled":false,"strokeWidth":0.9,"color":"#333","opacity":1,"clip":true},
     "encoding":{
      "x":{"field":"x2","type":"quantitative","scale":{"domain":[-10,10],"nice":false,"zero":false},"axis":{"orient":"top","values":[-10,-8,-6,-4,-2,0,2,4,6,8,10],"labels":false,"title":null}},
      "y":{"field":"y2","type":"quantitative","scale":{"domain":[-3,3],"nice":false,"zero":false},"axis":{"orient":"right","values":[-3,-2,-1,0,1,2,3],"labels":false,"title":null}},
      "angle":{"field":"ang","type":"quantitative","scale":null},
      "size":{"field":"hs","type":"quantitative","scale":null,"legend":null}}}
   ]}
 ],
 "resolve":{"axis":{"x":"independent","y":"independent"}}
},
{"width":703,"height":177,
 "title":{"text":"(b) 2 km, Uₘₐₓ =5.8565"},
 "layer":[
  {"data":{"name":"contours"},"transform":[{"filter":"datum.p == 'b'"},{"flatten":["x","y"]}],
   "mark":{"type":"line","clip":true,"strokeWidth":1,"color":"#2a2a2a"},
   "encoding":{
    "x":{"field":"x","type":"quantitative","scale":{"domain":[-10,10],"nice":false,"zero":false},"axis":{"orient":"bottom","values":[-10,-8,-6,-4,-2,0,2,4,6,8,10],"title":null}},
    "y":{"field":"y","type":"quantitative","scale":{"domain":[-3,3],"nice":false,"zero":false},"axis":{"orient":"left","values":[-3,-2,-1,0,1,2,3],"title":null}},
    "detail":{"field":"c","type":"nominal"},
    "strokeDash":{"field":"s","type":"nominal","scale":{"domain":["d","s"],"range":[[8,4],[1,0]]},"legend":null},
    "order":{"value":null}}},
  {"data":{"name":"arrows"},
   "transform":[{"filter":"datum.p == 'b'"},{"flatten":["y","u","v"]},
    {"calculate":"datum.x + datum.u","as":"x2"},
    {"calculate":"datum.y + (datum.v || 0)","as":"y2"},
    {"calculate":"sqrt(pow(datum.u*35.15,2) + pow((datum.v || 0)*29.5,2))","as":"L"},
    {"calculate":"-atan2((datum.v || 0)*29.5, datum.u*35.15)*180/PI","as":"ang"},
    {"calculate":"4*pow(clamp(0.25*datum.L, 1.3, 8), 2)","as":"hs"}],
   "layer":[
    {"mark":{"type":"rule","clip":true,"strokeWidth":0.8,"color":"#333"},
     "encoding":{
      "x":{"field":"x","type":"quantitative","scale":{"domain":[-10,10],"nice":false,"zero":false},"axis":{"orient":"top","values":[-10,-8,-6,-4,-2,0,2,4,6,8,10],"labels":false,"title":null}},
      "x2":{"field":"x2"},
      "y":{"field":"y","type":"quantitative","scale":{"domain":[-3,3],"nice":false,"zero":false},"axis":{"orient":"right","values":[-3,-2,-1,0,1,2,3],"labels":false,"title":null}},
      "y2":{"field":"y2"}}},
    {"mark":{"type":"point","shape":"M-1,-0.55L0,0L-1,0.55","filled":false,"strokeWidth":0.9,"color":"#333","opacity":1,"clip":true},
     "encoding":{
      "x":{"field":"x2","type":"quantitative","scale":{"domain":[-10,10],"nice":false,"zero":false},"axis":{"orient":"top","values":[-10,-8,-6,-4,-2,0,2,4,6,8,10],"labels":false,"title":null}},
      "y":{"field":"y2","type":"quantitative","scale":{"domain":[-3,3],"nice":false,"zero":false},"axis":{"orient":"right","values":[-3,-2,-1,0,1,2,3],"labels":false,"title":null}},
      "angle":{"field":"ang","type":"quantitative","scale":null},
      "size":{"field":"hs","type":"quantitative","scale":null,"legend":null}}}
   ]}
 ],
 "resolve":{"axis":{"x":"independent","y":"independent"}}
},
{"width":703,"height":177,
 "title":{"text":"(c) 4 km, Uₘₐₓ =9.2367"},
 "layer":[
  {"data":{"name":"contours"},"transform":[{"filter":"datum.p == 'c'"},{"flatten":["x","y"]}],
   "mark":{"type":"line","clip":true,"strokeWidth":1,"color":"#2a2a2a"},
   "encoding":{
    "x":{"field":"x","type":"quantitative","scale":{"domain":[-10,10],"nice":false,"zero":false},"axis":{"orient":"bottom","values":[-10,-8,-6,-4,-2,0,2,4,6,8,10],"title":null}},
    "y":{"field":"y","type":"quantitative","scale":{"domain":[-3,3],"nice":false,"zero":false},"axis":{"orient":"left","values":[-3,-2,-1,0,1,2,3],"title":null}},
    "detail":{"field":"c","type":"nominal"},
    "strokeDash":{"field":"s","type":"nominal","scale":{"domain":["d","s"],"range":[[8,4],[1,0]]},"legend":null},
    "order":{"value":null}}},
  {"data":{"name":"arrows"},
   "transform":[{"filter":"datum.p == 'c'"},{"flatten":["y","u","v"]},
    {"calculate":"datum.x + datum.u","as":"x2"},
    {"calculate":"datum.y + (datum.v || 0)","as":"y2"},
    {"calculate":"sqrt(pow(datum.u*35.15,2) + pow((datum.v || 0)*29.5,2))","as":"L"},
    {"calculate":"-atan2((datum.v || 0)*29.5, datum.u*35.15)*180/PI","as":"ang"},
    {"calculate":"4*pow(clamp(0.25*datum.L, 1.3, 8), 2)","as":"hs"}],
   "layer":[
    {"mark":{"type":"rule","clip":true,"strokeWidth":0.8,"color":"#333"},
     "encoding":{
      "x":{"field":"x","type":"quantitative","scale":{"domain":[-10,10],"nice":false,"zero":false},"axis":{"orient":"top","values":[-10,-8,-6,-4,-2,0,2,4,6,8,10],"labels":false,"title":null}},
      "x2":{"field":"x2"},
      "y":{"field":"y","type":"quantitative","scale":{"domain":[-3,3],"nice":false,"zero":false},"axis":{"orient":"right","values":[-3,-2,-1,0,1,2,3],"labels":false,"title":null}},
      "y2":{"field":"y2"}}},
    {"mark":{"type":"point","shape":"M-1,-0.55L0,0L-1,0.55","filled":false,"strokeWidth":0.9,"color":"#333","opacity":1,"clip":true},
     "encoding":{
      "x":{"field":"x2","type":"quantitative","scale":{"domain":[-10,10],"nice":false,"zero":false},"axis":{"orient":"top","values":[-10,-8,-6,-4,-2,0,2,4,6,8,10],"labels":false,"title":null}},
      "y":{"field":"y2","type":"quantitative","scale":{"domain":[-3,3],"nice":false,"zero":false},"axis":{"orient":"right","values":[-3,-2,-1,0,1,2,3],"labels":false,"title":null}},
      "angle":{"field":"ang","type":"quantitative","scale":null},
      "size":{"field":"hs","type":"quantitative","scale":null,"legend":null}}}
   ]}
 ],
 "resolve":{"axis":{"x":"independent","y":"independent"}}
},
{"width":703,"height":177,
 "title":{"text":"(d) 12 km, Uₘₐₓ =12.0212"},
 "layer":[
  {"data":{"name":"contours"},"transform":[{"filter":"datum.p == 'd'"},{"flatten":["x","y"]}],
   "mark":{"type":"line","clip":true,"strokeWidth":1,"color":"#2a2a2a"},
   "encoding":{
    "x":{"field":"x","type":"quantitative","scale":{"domain":[-10,10],"nice":false,"zero":false},"axis":{"orient":"bottom","values":[-10,-8,-6,-4,-2,0,2,4,6,8,10],"title":"Zonal (x 1000 km)"}},
    "y":{"field":"y","type":"quantitative","scale":{"domain":[-3,3],"nice":false,"zero":false},"axis":{"orient":"left","values":[-3,-2,-1,0,1,2,3],"title":"Meridional (x 1000 km)"}},
    "detail":{"field":"c","type":"nominal"},
    "strokeDash":{"field":"s","type":"nominal","scale":{"domain":["d","s"],"range":[[8,4],[1,0]]},"legend":null},
    "order":{"value":null}}},
  {"data":{"name":"arrows"},
   "transform":[{"filter":"datum.p == 'd'"},{"flatten":["y","u","v"]},
    {"calculate":"datum.x + datum.u","as":"x2"},
    {"calculate":"datum.y + (datum.v || 0)","as":"y2"},
    {"calculate":"sqrt(pow(datum.u*35.15,2) + pow((datum.v || 0)*29.5,2))","as":"L"},
    {"calculate":"-atan2((datum.v || 0)*29.5, datum.u*35.15)*180/PI","as":"ang"},
    {"calculate":"4*pow(clamp(0.25*datum.L, 1.3, 8), 2)","as":"hs"}],
   "layer":[
    {"mark":{"type":"rule","clip":true,"strokeWidth":0.8,"color":"#333"},
     "encoding":{
      "x":{"field":"x","type":"quantitative","scale":{"domain":[-10,10],"nice":false,"zero":false},"axis":{"orient":"top","values":[-10,-8,-6,-4,-2,0,2,4,6,8,10],"labels":false,"title":null}},
      "x2":{"field":"x2"},
      "y":{"field":"y","type":"quantitative","scale":{"domain":[-3,3],"nice":false,"zero":false},"axis":{"orient":"right","values":[-3,-2,-1,0,1,2,3],"labels":false,"title":null}},
      "y2":{"field":"y2"}}},
    {"mark":{"type":"point","shape":"M-1,-0.55L0,0L-1,0.55","filled":false,"strokeWidth":0.9,"color":"#333","opacity":1,"clip":true},
     "encoding":{
      "x":{"field":"x2","type":"quantitative","scale":{"domain":[-10,10],"nice":false,"zero":false},"axis":{"orient":"top","values":[-10,-8,-6,-4,-2,0,2,4,6,8,10],"labels":false,"title":null}},
      "y":{"field":"y2","type":"quantitative","scale":{"domain":[-3,3],"nice":false,"zero":false},"axis":{"orient":"right","values":[-3,-2,-1,0,1,2,3],"labels":false,"title":null}},
      "angle":{"field":"ang","type":"quantitative","scale":null},
      "size":{"field":"hs","type":"quantitative","scale":null,"legend":null}}}
   ]}
 ],
 "resolve":{"axis":{"x":"independent","y":"independent"}}
}
],
"spacing":16,
"config":{
 "view":{"stroke":"#555","strokeWidth":1},
 "axis":{"domain":false,"grid":false,"tickColor":"#555","tickSize":-5,"tickWidth":1,"labelFont":"Liberation Sans","labelFontSize":16,"labelColor":"#111","labelPadding":6,"labelFlush":false,"titleFont":"Liberation Sans","titleFontSize":16,"titleFontWeight":"normal","titleColor":"#111"},
 "axisY":{"titlePadding":8,"labelPadding":10},
 "axisX":{"titlePadding":2,"labelPadding":14},
 "title":{"font":"Liberation Sans","fontSize":16,"fontWeight":"normal","color":"#111","offset":16,"anchor":"middle","frame":"group"}
}
}
